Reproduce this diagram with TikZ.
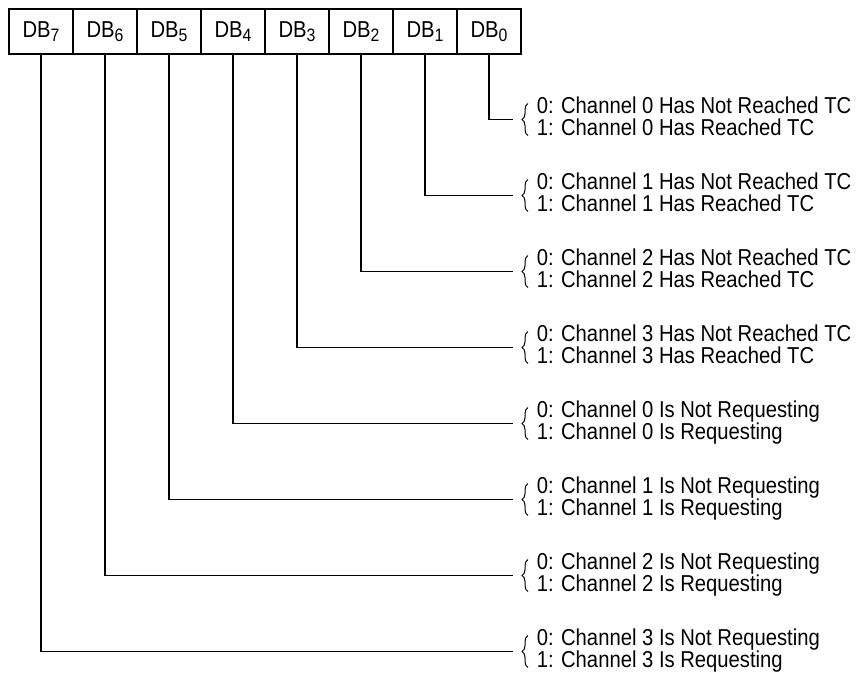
\documentclass[tikz,border=0pt]{standalone}
\usepackage{fontspec}
\setmainfont{Liberation Sans}[FakeStretch=0.88]
\usetikzlibrary{positioning}
\usetikzlibrary{decorations.pathreplacing}

\newcommand{\dbsub}[1]{\raisebox{-1.8pt}{\fontsize{9}{9}\selectfont #1}}

\begin{document}
\begin{tikzpicture}[x=0.5pt, y=-0.5pt, line width=0.75pt, black,
    font=\fontsize{11.5}{13}\selectfont,
    bit/.style={draw, minimum width=32pt, minimum height=22.5pt, inner sep=0pt, outer sep=0pt},
    desc/.style={anchor=base west, inner sep=0pt},
    curly/.style={decorate, decoration={brace, amplitude=3pt}, line width=0.5pt}]
  \useasboundingbox (0,0) rectangle (860,677);
  % status register bits
  \node[bit] (db7) at (41,31.5) {DB\dbsub{7}};
  \node[bit, right=0pt of db7] (db6) {DB\dbsub{6}};
  \node[bit, right=0pt of db6] (db5) {DB\dbsub{5}};
  \node[bit, right=0pt of db5] (db4) {DB\dbsub{4}};
  \node[bit, right=0pt of db4] (db3) {DB\dbsub{3}};
  \node[bit, right=0pt of db3] (db2) {DB\dbsub{2}};
  \node[bit, right=0pt of db2] (db1) {DB\dbsub{1}};
  \node[bit, right=0pt of db1] (db0) {DB\dbsub{0}};
  % meanings
  \node[desc] (d0a) at (536,113) {0: Channel 0 Has Not Reached TC};
  \node[desc] (d0b) at (536,135.5) {1: Channel 0 Has Reached TC};
  \node[desc] (d1a) at (536,189) {0: Channel 1 Has Not Reached TC};
  \node[desc] (d1b) at (536,211.5) {1: Channel 1 Has Reached TC};
  \node[desc] (d2a) at (536,265) {0: Channel 2 Has Not Reached TC};
  \node[desc] (d2b) at (536,287.5) {1: Channel 2 Has Reached TC};
  \node[desc] (d3a) at (536,341) {0: Channel 3 Has Not Reached TC};
  \node[desc] (d3b) at (536,363.5) {1: Channel 3 Has Reached TC};
  \node[desc] (d4a) at (536,417) {0: Channel 0 Is Not Requesting};
  \node[desc] (d4b) at (536,439.5) {1: Channel 0 Is Requesting};
  \node[desc] (d5a) at (536,493) {0: Channel 1 Is Not Requesting};
  \node[desc] (d5b) at (536,515.5) {1: Channel 1 Is Requesting};
  \node[desc] (d6a) at (536,569) {0: Channel 2 Is Not Requesting};
  \node[desc] (d6b) at (536,591.5) {1: Channel 2 Is Requesting};
  \node[desc] (d7a) at (536,645) {0: Channel 3 Is Not Requesting};
  \node[desc] (d7b) at (536,667.5) {1: Channel 3 Is Requesting};
  % braces
  \draw[curly] ([xshift=-4pt]d0b.base west) -- ([xshift=-4pt,yshift=16pt]d0b.base west);
  \draw[curly] ([xshift=-4pt]d1b.base west) -- ([xshift=-4pt,yshift=16pt]d1b.base west);
  \draw[curly] ([xshift=-4pt]d2b.base west) -- ([xshift=-4pt,yshift=16pt]d2b.base west);
  \draw[curly] ([xshift=-4pt]d3b.base west) -- ([xshift=-4pt,yshift=16pt]d3b.base west);
  \draw[curly] ([xshift=-4pt]d4b.base west) -- ([xshift=-4pt,yshift=16pt]d4b.base west);
  \draw[curly] ([xshift=-4pt]d5b.base west) -- ([xshift=-4pt,yshift=16pt]d5b.base west);
  \draw[curly] ([xshift=-4pt]d6b.base west) -- ([xshift=-4pt,yshift=16pt]d6b.base west);
  \draw[curly] ([xshift=-4pt]d7b.base west) -- ([xshift=-4pt,yshift=16pt]d7b.base west);
  % line ends
  \coordinate (t0) at ([xshift=-11.5pt,yshift=8pt]d0b.base west);
  \coordinate (t1) at ([xshift=-11.5pt,yshift=8pt]d1b.base west);
  \coordinate (t2) at ([xshift=-11.5pt,yshift=8pt]d2b.base west);
  \coordinate (t3) at ([xshift=-11.5pt,yshift=8pt]d3b.base west);
  \coordinate (t4) at ([xshift=-11.5pt,yshift=8pt]d4b.base west);
  \coordinate (t5) at ([xshift=-11.5pt,yshift=8pt]d5b.base west);
  \coordinate (t6) at ([xshift=-11.5pt,yshift=8pt]d6b.base west);
  \coordinate (t7) at ([xshift=-11.5pt,yshift=8pt]d7b.base west);
  \draw (db0.south) |- (t0);
  \draw (db1.south) |- (t1);
  \draw (db2.south) |- (t2);
  \draw (db3.south) |- (t3);
  \draw (db4.south) |- (t4);
  \draw (db5.south) |- (t5);
  \draw (db6.south) |- (t6);
  \draw (db7.south) |- (t7);
\end{tikzpicture}
\end{document}
